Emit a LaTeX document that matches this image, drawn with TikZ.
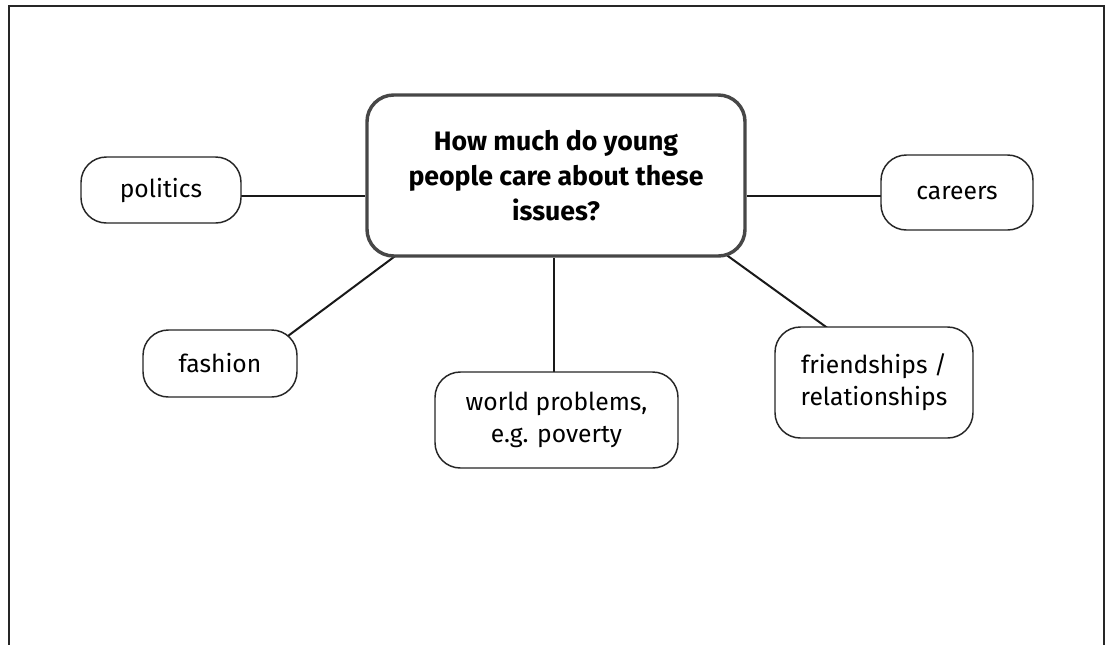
\documentclass[tikz,border=0pt]{standalone}
\usepackage{fontspec}
\setmainfont{Fira Sans}
\usetikzlibrary{calc,backgrounds}
\tikzset{
  topic/.style={draw=black!85, line width=1.1pt, fill=white, rounded corners=19pt,
    inner sep=0pt, align=center, font=\fontsize{18.5}{24}\selectfont},
  hub/.style={draw=black!72, line width=2.6pt, fill=white, rounded corners=20pt,
    inner sep=0pt, align=center, font=\fontsize{20}{26}\selectfont\bfseries},
  link/.style={draw=black!90, line width=1.5pt},
  frame/.style={draw=black!85, line width=1.5pt}
}
\begin{document}
\begin{tikzpicture}[x=0.75pt,y=-0.75pt]
\useasboundingbox (0,0) rectangle (1109,644);
% page frame, open at the bottom
\draw[frame] (9,660) -- (9,6) -- (1104,6) -- (1104,660);

% central question
\node[hub, minimum width=283.5pt, minimum height=120.75pt] (central) at (556,175.5)
  {How much do young\\people care about these\\issues?};

% surrounding topics
\node[topic, minimum width=120pt, minimum height=49.5pt] (politics) at (161,190) {politics};
\node[topic, minimum width=114pt, minimum height=56.25pt] (careers) at (957,192.5) {careers};
\node[topic, minimum width=115.5pt, minimum height=50.25pt] (fashion) at (220,363.5) {fashion};
\node[topic, minimum width=182.25pt, minimum height=72pt] (world) at (556.5,420)
  {world problems,\\e.g. poverty};
\node[topic, minimum width=148.5pt, minimum height=83.25pt] (friends) at (874,382.5)
  {friendships /\\relationships};

% connectors, kept behind the boxes
\begin{pgfonlayer}{background}
  \coordinate (pl) at ($(politics.east)+(-4,6)$);
  \draw[link] (pl) -- (pl -| central.west);
  \coordinate (cr) at ($(careers.west)+(4,3)$);
  \draw[link] (cr) -- (cr -| central.east);
  \coordinate (wn) at ($(world.north)+(-3,4)$);
  \draw[link] (wn) -- (wn |- central.south);
  \draw[link] ($(fashion.north east)+(-13.5,9.5)$) -- ($(central.south west)+(33,-4)$);
  \draw[link] ($(central.south east)+(-22,-4)$) -- ($(friends.north west)+(55,3)$);
\end{pgfonlayer}
\end{tikzpicture}
\end{document}
